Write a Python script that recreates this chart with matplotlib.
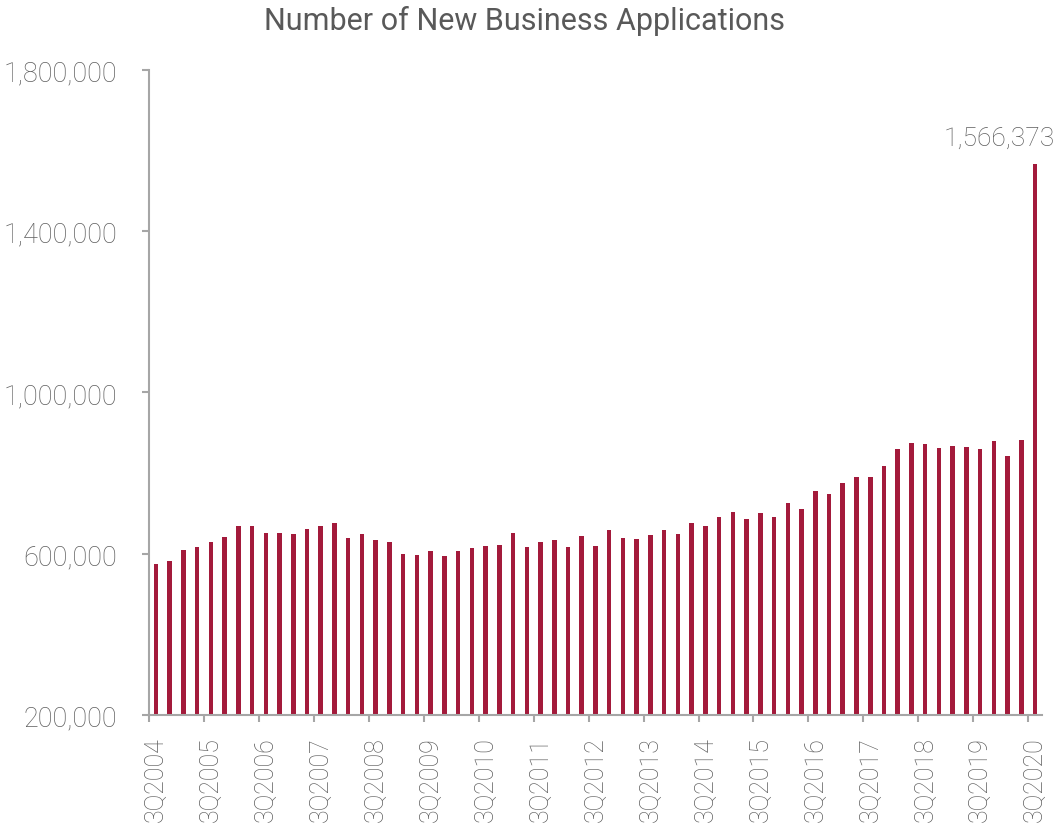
import matplotlib.pyplot as plt
import numpy as np

plt.rcParams['font.family'] = ['Roboto', 'DejaVu Sans']

# quarterly new business applications, 3Q2004 .. 3Q2020
quarters = [f'{q}Q{y}' for y in range(2004, 2021) for q in range(1, 5)]
quarters = quarters[2:quarters.index('3Q2020') + 1]

applications = [
    573800, 582000, 609300, 616700, 629100, 641500, 669700, 668900,
    651500, 650700, 649900, 660600, 668100, 676300, 638200, 649000,
    634900, 629100, 599400, 596100, 606000, 595200, 606800, 614200,
    618300, 620800, 651500, 616700, 630000, 634100, 616700, 643200,
    618300, 659700, 639000, 636600, 645700, 659700, 649900, 675500,
    668900, 691900, 704400, 686200, 701900, 690400, 725900, 711800,
    755700, 749000, 774700, 789600, 789600, 817700, 859000, 873900,
    872300, 861600, 866500, 864800, 859000, 880400, 842500, 882900,
    1566373,
]

bar_color = '#A31A3B'
title_color = '#595959'
text_color = '#5E5E5E'
axis_color = '#A6A6A6'

fig = plt.figure(figsize=(10.56, 8.28), dpi=100)
ax = fig.add_axes([0.1411, 0.1353, 0.9867 - 0.1411, 0.9143 - 0.1353])

x = np.arange(len(quarters))
ax.bar(x, applications, width=0.33, color=bar_color)

ax.set_xlim(-0.5, len(quarters) - 0.5)
ax.set_ylim(200000, 1800000)
ax.set_yticks([200000, 600000, 1000000, 1400000, 1800000])
ax.set_yticklabels([f'{v:,}' for v in ax.get_yticks().astype(int)])

# labels under every 4th bar (the 3rd quarters), tick marks at category edges
lab_idx = x[::4]
ax.set_xticks(lab_idx)
ax.set_xticklabels([quarters[i] for i in lab_idx], rotation=90)
ax.set_xticks(lab_idx - 0.5, minor=True)
ax.tick_params(axis='x', which='major', length=0, pad=15, labelsize=18)
ax.tick_params(axis='x', which='minor', length=5, width=1.5, color=axis_color)
ax.tick_params(axis='y', length=5, width=1.5, color=axis_color, pad=18, labelsize=19.5)
ax.tick_params(axis='both', which='major', labelcolor=text_color)
for lab in ax.get_xticklabels() + ax.get_yticklabels():
    lab.set_fontweight('light')

for side in ['top', 'right']:
    ax.spines[side].set_visible(False)
for side in ['left', 'bottom']:
    ax.spines[side].set_color(axis_color)
    ax.spines[side].set_linewidth(1.5)

# value label on the last bar, kept inside the figure
ax.annotate(f'{applications[-1]:,}', xy=(x[-1], applications[-1]),
            xytext=(-91, 14), textcoords='offset pixels', ha='left', va='bottom',
            fontsize=19, color=text_color, fontweight='light', annotation_clip=False)

fig.text(0.497, 0.993, 'Number of New Business Applications', ha='center', va='top',
         fontsize=22, color=title_color)

fig.savefig('out.png', dpi=100)
